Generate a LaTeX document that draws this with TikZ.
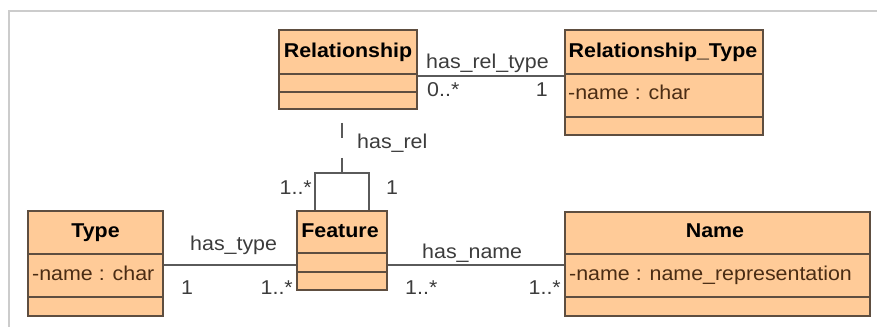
\documentclass[tikz,border=0pt]{standalone}
\usepackage{fontspec}
\setmainfont{Liberation Sans}[FakeStretch=1.07]

\definecolor{peach}{HTML}{FFCB98}
\definecolor{boxline}{HTML}{5E4E40}
\definecolor{linegray}{HTML}{5A5A5A}
\definecolor{attrtext}{HTML}{4A2C14}
\definecolor{labeltext}{HTML}{3C3C3C}
\definecolor{framegray}{HTML}{CCCCCC}

\begin{document}
\begin{tikzpicture}[x=1pt,y=-1pt,
  classbox/.style={rectangle, draw=boxline, fill=peach, line width=1.6pt, inner sep=0pt},
  boxsep/.style={draw=boxline, line width=1.6pt},
  txt/.style={inner sep=0pt, font=\fontsize{20}{23}\selectfont},
  title/.style={txt, anchor=base, text=black, font=\bfseries\fontsize{20}{23}\selectfont},
  attr/.style={txt, anchor=base west, text=attrtext},
  lbl/.style={txt, anchor=base west, text=labeltext},
  lblr/.style={txt, anchor=base east, text=labeltext},
  assoc/.style={draw=linegray, line width=1.5pt},
  frame/.style={draw=framegray, line width=2pt}]

\useasboundingbox (0,0) rectangle (877,327);

% panel frame
\draw[frame] (877,11) -- (9,11) -- (9,327);

% ---- classes ----
% Relationship
\node[classbox, minimum width=138pt, minimum height=79pt] (rel) at (348,69.5) {};
\draw[boxsep] (rel.west |- 0,74) -- (rel.east |- 0,74);
\draw[boxsep] (rel.west |- 0,92) -- (rel.east |- 0,92);
\node[title] (relT) at (348,57) {Relationship};

% Relationship_Type
\node[classbox, minimum width=198pt, minimum height=105pt] (rtype) at (664,82.5) {};
\draw[boxsep] (rtype.west |- 0,74) -- (rtype.east |- 0,74);
\draw[boxsep] (rtype.west |- 0,117) -- (rtype.east |- 0,117);
\node[title] (rtypeT) at (663,57) {Relationship\_Type};
\node[attr] (rtypeA) at (568,99) {-name : char};

% Type
\node[classbox, minimum width=135pt, minimum height=105pt] (type) at (95.5,263.5) {};
\draw[boxsep] (type.west |- 0,254) -- (type.east |- 0,254);
\draw[boxsep] (type.west |- 0,297) -- (type.east |- 0,297);
\node[title] (typeT) at (95.5,237) {Type};
\node[attr] (typeA) at (32,280) {-name : char};

% Feature
\node[classbox, minimum width=90pt, minimum height=79pt] (feat) at (342,250.5) {};
\draw[boxsep] (feat.west |- 0,253) -- (feat.east |- 0,253);
\draw[boxsep] (feat.west |- 0,272) -- (feat.east |- 0,272);
\node[title] (featT) at (340,237) {Feature};

% Name
\node[classbox, minimum width=305pt, minimum height=104pt] (name) at (717.5,264) {};
\draw[boxsep] (name.west |- 0,254) -- (name.east |- 0,254);
\draw[boxsep] (name.west |- 0,297) -- (name.east |- 0,297);
\node[title] (nameT) at (715,237) {Name};
\node[attr] (nameA) at (569,280) {-name : name\_representation};

% ---- associations ----
% has_rel_type
\coordinate (rtL) at (0,76);
\draw[assoc] (rel.east |- rtL) -- (rtype.west |- rtL);
\node[lbl] (rtLab) at (426,68) {has\_rel\_type};
\node[lbl] (rtM1) at (427,96) {0..*};
\node[lblr] (rtM2) at (548,96) {1};

% has_type
\coordinate (tyL) at (0,265);
\draw[assoc] (type.east |- tyL) -- (feat.west |- tyL);
\node[lbl] (tyLab) at (190,250) {has\_type};
\node[lbl] (tyM1) at (181,294) {1};
\node[lblr] (tyM2) at (293,294) {1..*};

% has_name
\coordinate (nmL) at (0,265);
\draw[assoc] (feat.east |- nmL) -- (name.west |- nmL);
\node[lbl] (nmLab) at (422,258) {has\_name};
\node[lbl] (nmM1) at (405,294) {1..*};
\node[lblr] (nmM2) at (561,294) {1..*};

% has_rel: reflexive association on Feature with Relationship attached
\coordinate (fL) at (315,173);
\coordinate (fR) at (369,173);
\coordinate (relJ) at (342,173);
\draw[assoc] (feat.north -| fL) -- (fL) -- (fR) -- (feat.north -| fR);
\draw[assoc, dash pattern=on 15pt off 20pt, dash phase=22pt] (rel.south -| relJ) -- (relJ);
\node[lbl] (hrLab) at (357,148) {has\_rel};
\node[lblr] (hrM1) at (312,194) {1..*};
\node[lbl] (hrM2) at (386,194) {1};

\end{tikzpicture}
\end{document}
